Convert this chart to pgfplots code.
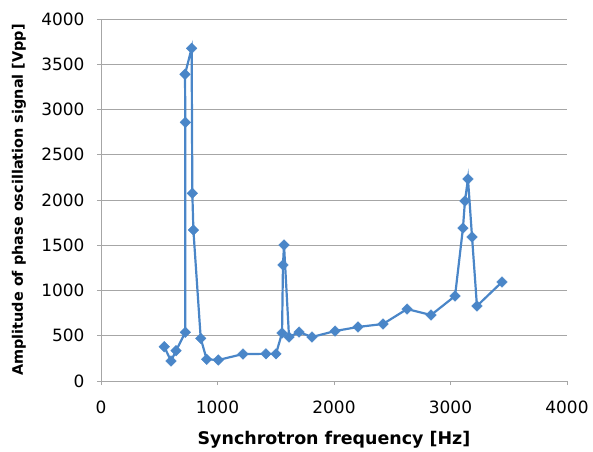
\documentclass[border=0pt]{standalone}
\usepackage{fontspec}
\setmainfont{DejaVu Sans}
\usepackage{pgfplots}
\pgfplotsset{compat=1.18}
\definecolor{lineblue}{HTML}{4A86C8}
\definecolor{gridgray}{HTML}{A6A6A6}
\begin{document}
\begin{tikzpicture}[x=1bp,y=1bp]
\begin{axis}[
    name=main,
    scale only axis,
    width=466bp, height=362bp,
    xmin=0, xmax=4000, ymin=0, ymax=4000,
    xtick={0,1000,...,4000},
    ytick={0,500,...,4000},
    axis x line*=bottom, axis y line*=left,
    axis line style={gridgray, line width=0.8pt},
    tick style={gridgray, line width=0.8pt},
    tick align=outside,
    major tick length=4bp,
    ymajorgrids,
    grid style={gridgray, line width=0.9pt},
    /pgf/number format/assume math mode=true,
    /pgf/number format/1000 sep={},
    ticklabel style={font=\fontsize{17}{19}\selectfont, text=black},
    xticklabel style={yshift=-12bp},
    yticklabel style={xshift=-9bp},
    xlabel={\textbf{Synchrotron frequency [Hz]}},
    ylabel={\textbf{Amplitude of phase oscillation signal [Vpp]}},
    xlabel style={font=\fontsize{17.5}{19}\selectfont,
        at={(axis description cs:0.5,-0.163)}, anchor=center},
    ylabel style={font=\fontsize{14.5}{16}\selectfont,
        at={(axis description cs:-0.176,0.5)}, anchor=center},
]
\addplot[lineblue, line width=2.2pt, mark=square*, mark size=3.7bp,
         mark options={rotate=45, fill=lineblue, draw=lineblue, line width=0.5pt}]
coordinates {
(543,379) (601,221) (644,335) (724,538) (724,2858) (721,3389) (778,3676)
(784,2074) (793,1668) (856,471) (907,240) (1007,232) (1219,298)
(1416,300) (1502,300) (1554,530) (1562,1282) (1571,1503) (1614,486)
(1700,541) (1811,486) (2009,552) (2206,597) (2421,630) (2627,795)
(2833,729) (3039,939) (3107,1690) (3124,1989) (3150,2232) (3185,1591)
(3227,829) (3442,1094)
};
\end{axis}
\path (main.south west) ++(-101bp,-70bp);
\path (main.north east) ++(26bp,19bp);
\end{tikzpicture}
\end{document}
